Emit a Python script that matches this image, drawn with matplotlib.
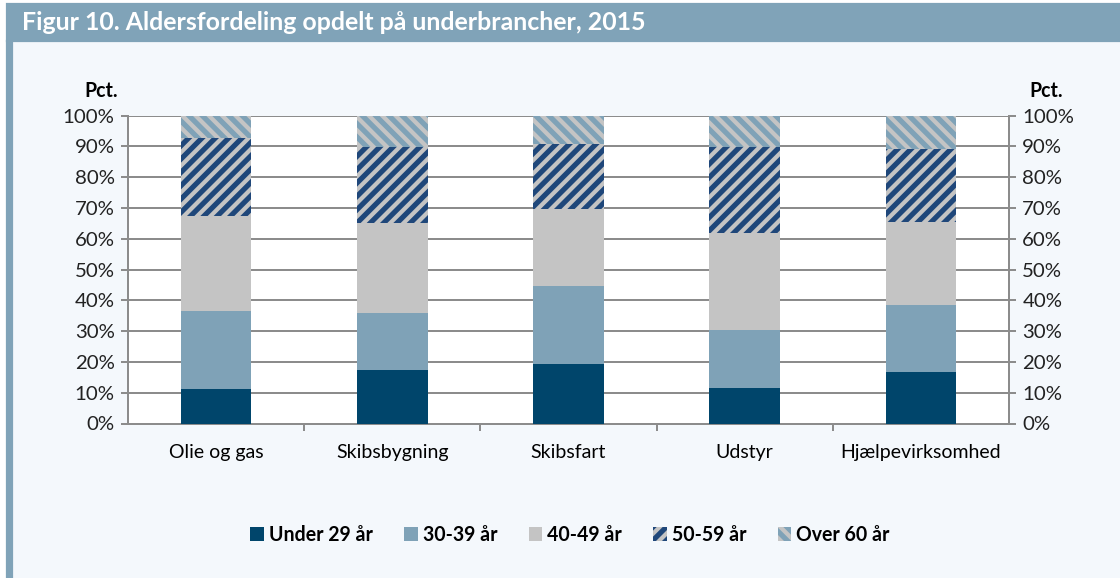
import matplotlib.pyplot as plt
import matplotlib.patches as mpatches
import numpy as np

plt.rcParams['font.family'] = ['Lato', 'DejaVu Sans']
plt.rcParams['hatch.linewidth'] = 1.9

categories = ['Olie og gas', 'Skibsbygning', 'Skibsfart', 'Udstyr', 'Hjælpevirksomhed']
series = ['Under 29 år', '30-39 år', '40-49 år', '50-59 år', 'Over 60 år']
under_29 = [11.2, 17.4, 19.3, 11.5, 16.7]
age_30_39 = [25.4, 18.5, 25.4, 18.8, 21.8]
age_40_49 = [30.7, 29.2, 25.0, 31.7, 27.1]
age_50_59 = [25.4, 24.7, 21.1, 27.8, 23.6]
over_60 = [7.3, 10.2, 9.2, 10.2, 10.8]

values = [under_29, age_30_39, age_40_49, age_50_59, over_60]
colors = ['#00456b', '#7fa2b7', '#c4c4c4', '#1f477a', '#7fa2b7']
hatches = [None, None, None, '////', '\\\\\\\\']

bg = '#f4f8fc'
frame = '#80a3b8'
grid = '#8c8c8c'

fig = plt.figure(figsize=(7, 3.6125), dpi=160, facecolor='white')
# light background, title bar and left stripe
fig.patches.append(mpatches.Rectangle((7/1120, 0), 1, 1 - 41/578, transform=fig.transFigure,
                                      color=bg, zorder=-3))
fig.patches.append(mpatches.Rectangle((7/1120, 1 - 41/578), 1, 37/578, transform=fig.transFigure,
                                      color=frame, zorder=-2))
fig.patches.append(mpatches.Rectangle((7/1120, 0), 5/1120, 1 - 41/578, transform=fig.transFigure,
                                      color=frame, zorder=-2))
fig.text(22/1120, 1 - 23/578, 'Figur 10. Aldersfordeling opdelt på underbrancher, 2015',
         color='white', fontsize=11.2, fontweight='bold', va='center', ha='left')

ax = fig.add_axes([128/1120, 1 - 423.5/578, 881/1120, 307.8/578])
ax.set_facecolor('white')
x = np.arange(len(categories))
bottom = np.zeros(len(categories))
for vals, name, col, h in zip(values, series, colors, hatches):
    if h:
        ax.bar(x, vals, 0.4, bottom=bottom, color=col, hatch=h, edgecolor='#c4c4c4',
               linewidth=0, label=name, zorder=3)
    else:
        ax.bar(x, vals, 0.4, bottom=bottom, color=col, linewidth=0, label=name, zorder=3)
    bottom += np.array(vals)

ax.set_xlim(-0.5, len(categories) - 0.5)
ax.set_ylim(0, 100)
ax.set_yticks(np.arange(0, 101, 10))
ax.set_yticklabels([f'{v}%' for v in range(0, 101, 10)])
ax.yaxis.grid(True, color=grid, linewidth=0.9, zorder=0)
ax.set_axisbelow(True)
ax.set_xticks(x)
ax.set_xticklabels(categories)
for lbl in ax.get_xticklabels():
    lbl.set_va('baseline')
ax.set_xticks(np.arange(0.5, len(categories) - 1, 1), minor=True)
ax.tick_params(axis='x', which='major', length=0, pad=15.5, labelsize=8.8, colors='black')
ax.tick_params(axis='x', which='minor', length=3, width=0.9, color=grid)
ax.tick_params(axis='y', length=3, width=0.9, color=grid, labelsize=9.2, labelcolor='#222222', pad=3)
for s in ['left', 'right', 'bottom']:
    ax.spines[s].set_color(grid)
    ax.spines[s].set_linewidth(0.9)
ax.spines['top'].set_visible(False)

ax2 = ax.twinx()
ax2.set_ylim(0, 100)
ax2.set_yticks(np.arange(0, 101, 10))
ax2.set_yticklabels([f'{v}%' for v in range(0, 101, 10)])
ax2.tick_params(axis='y', length=3, width=0.9, color=grid, labelsize=9.2, labelcolor='#222222', pad=3)
for s in ax2.spines.values():
    s.set_visible(False)

fig.text(101/1120, 1 - 91/578, 'Pct.', fontsize=8.8, fontweight='bold', ha='center', va='center')
fig.text(1046/1120, 1 - 91/578, 'Pct.', fontsize=8.8, fontweight='bold', ha='center', va='center')

fig.legend(handles=[c[0] for c in ax.containers], labels=series,
           loc='center', bbox_to_anchor=(570/1120, 1 - 535/578), ncol=5, frameon=False,
           prop={'weight': 'bold', 'size': 8.8}, handlelength=0.7, handleheight=0.7,
           handletextpad=0.25, columnspacing=1.6)

fig.savefig('out.png', dpi=160, facecolor='white')
